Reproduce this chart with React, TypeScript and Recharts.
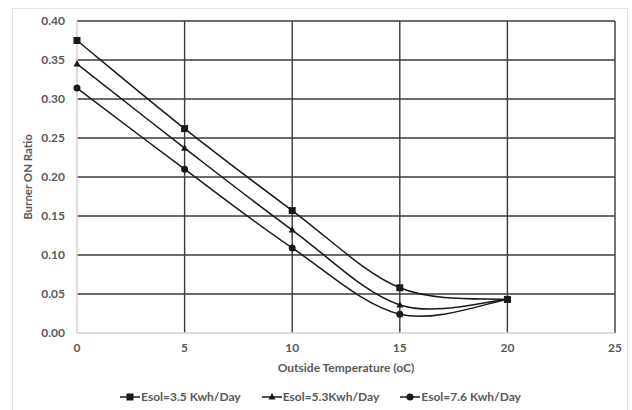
import React from 'react';
import { LineChart, Line, XAxis, YAxis, ReferenceLine, Legend } from 'recharts';

const temps = [0, 5, 10, 15, 20];
const esol35 = [0.375, 0.262, 0.157, 0.058, 0.043];
const esol53 = [0.345, 0.237, 0.132, 0.036, 0.043];
const esol76 = [0.314, 0.21, 0.109, 0.024, 0.043];
const xTicks = [0, 5, 10, 15, 20, 25];
const yTicks = [0, 0.05, 0.1, 0.15, 0.2, 0.25, 0.3, 0.35, 0.4];

const seriesNames = ['Esol=3.5 Kwh/Day', 'Esol=5.3Kwh/Day', 'Esol=7.6 Kwh/Day'];

const rows = temps.map((t, i) => ({ t, a: esol35[i], b: esol53[i], c: esol76[i] }));

const ink = '#1a1a1a';
const gridColor = '#3a3a3a';
const textColor = '#595959';
const font = 'Lato, "Open Sans", sans-serif';

// excel style smoothing (catmull-rom as bezier)
function smoothCurve(context: any) {
  let pts: number[][] = [];
  return {
    areaStart() {},
    areaEnd() {},
    lineStart() { pts = []; },
    point(x: number, y: number) { pts.push([x, y]); },
    lineEnd() {
      if (!pts.length) return;
      context.moveTo(pts[0][0], pts[0][1]);
      for (let i = 0; i < pts.length - 1; i++) {
        const p0 = pts[i - 1] || pts[i];
        const p1 = pts[i];
        const p2 = pts[i + 1];
        const p3 = pts[i + 2] || pts[i + 1];
        context.bezierCurveTo(
          p1[0] + (p2[0] - p0[0]) / 6, p1[1] + (p2[1] - p0[1]) / 6,
          p2[0] - (p3[0] - p1[0]) / 6, p2[1] - (p3[1] - p1[1]) / 6,
          p2[0], p2[1]
        );
      }
    },
  };
}

function Marker({ kind, x, y }: { kind: string; x: number; y: number }) {
  if (kind === 'square') return <rect x={x - 3.5} y={y - 3.5} width={7} height={7} fill={ink} />;
  if (kind === 'triangle') return <polygon points={`${x},${y - 4} ${x + 3.5},${y + 2.5} ${x - 3.5},${y + 2.5}`} fill={ink} />;
  return <circle cx={x} cy={y} r={3.5} fill={ink} />;
}

const markerKinds = ['square', 'triangle', 'circle'];

const dotFor = (kind: string) => (p: any) => (
  <g key={`${kind}-${p.index}`}>
    <Marker kind={kind} x={p.cx} y={p.cy} />
  </g>
);

function LegendBox() {
  return (
    <div style={{ display: 'flex', justifyContent: 'center', gap: 21, paddingLeft: 14, fontFamily: font, fontSize: 12, color: textColor, fontWeight: 700 }}>
      {seriesNames.map((n, i) => (
        <div key={n} style={{ display: 'flex', alignItems: 'center' }}>
          <svg width={20} height={10} style={{ marginRight: 1 }}>
            <line x1={0} y1={5} x2={20} y2={5} stroke={ink} strokeWidth={1.5} />
            <Marker kind={markerKinds[i]} x={10} y={5} />
          </svg>
          <span>{n}</span>
        </div>
      ))}
    </div>
  );
}

export default function App() {
  const tickStyle = { fill: textColor, fontSize: 12, fontFamily: font, fontWeight: 700 };
  return (
    <div style={{ position: 'absolute', left: 0, top: 0, width: 632, height: 410, background: '#fff' }}>
      <div style={{ position: 'absolute', left: 12, top: 8, width: 616, height: 410, border: '1px solid #e3e3e3', boxSizing: 'border-box' }} />
      <div style={{ position: 'absolute', left: 0, top: 0 }}>
        <LineChart width={632} height={410} data={rows} margin={{ top: 21, right: 17, bottom: 6, left: 12 }}>
          {xTicks.filter(t => t > 0).map(t => (
            <ReferenceLine key={`x${t}`} x={t} stroke={gridColor} strokeWidth={1.4} />
          ))}
          {yTicks.filter(t => t > 0).map(t => (
            <ReferenceLine key={`y${t}`} y={t} stroke={gridColor} strokeWidth={1.4} />
          ))}
          <XAxis
            dataKey="t"
            type="number"
            domain={[0, 25]}
            ticks={xTicks}
            tickLine={false}
            tickSize={6}
            tickMargin={4}
            axisLine={{ stroke: '#d0d0d0', strokeWidth: 1.5 }}
            tick={tickStyle}
            height={56}
            label={{ value: 'Outside Temperature (oC)', position: 'insideBottom', offset: 17, style: { fill: textColor, fontSize: 12, fontFamily: font, fontWeight: 700 } }}
          />
          <YAxis
            type="number"
            domain={[0, 0.4]}
            ticks={yTicks}
            tickFormatter={(v: number) => v.toFixed(2)}
            tickLine={false}
            tickSize={6}
            tickMargin={6}
            axisLine={{ stroke: '#d0d0d0', strokeWidth: 1.5 }}
            tick={tickStyle}
            width={65}
            label={{ value: 'Burner ON Ratio', angle: -90, position: 'insideLeft', offset: 16, style: { textAnchor: 'middle', fill: textColor, fontSize: 11.5, fontFamily: font, fontWeight: 700 } }}
          />
          <Legend verticalAlign="bottom" content={() => <LegendBox />} />
          <Line dataKey="a" name={seriesNames[0]} type={smoothCurve as any} stroke={ink} strokeWidth={1.5} dot={dotFor('square')} activeDot={false} isAnimationActive={false} />
          <Line dataKey="b" name={seriesNames[1]} type={smoothCurve as any} stroke={ink} strokeWidth={1.5} dot={dotFor('triangle')} activeDot={false} isAnimationActive={false} />
          <Line dataKey="c" name={seriesNames[2]} type={smoothCurve as any} stroke={ink} strokeWidth={1.5} dot={dotFor('circle')} activeDot={false} isAnimationActive={false} />
        </LineChart>
      </div>
    </div>
  );
}
